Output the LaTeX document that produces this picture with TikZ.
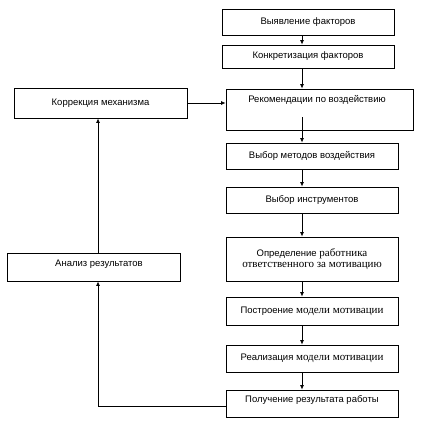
\documentclass[tikz,border=0pt]{standalone}
\usepackage{fontspec}
\setmainfont{Liberation Sans}
\newfontfamily\serifx{Liberation Serif}
\newcommand{\srf}[1]{{\serifx\fontsize{11}{13}\selectfont #1}}
\usetikzlibrary{arrows.meta}
\begin{document}
\begin{tikzpicture}[x=1pt,y=-1pt,
  box/.style={draw,line width=0.8pt,inner sep=0pt,font=\fontsize{9.5}{11.5}\selectfont},
  lbl/.style={font=\fontsize{9.5}{11.5}\selectfont},
  arr/.style={line width=0.8pt,-{Latex[length=4.5pt,width=4pt]}},
  ln/.style={line width=0.8pt}]
\useasboundingbox (0,0) rectangle (421,434);
\node[box,minimum width=172,minimum height=26] (b1) at (308,22) {Выявление факторов};
\node[box,minimum width=172,minimum height=23] (b2) at (308,56.5) {Конкретизация факторов};
\node[box,minimum width=187,minimum height=41] (b3) at (319.5,109.5) {};
\node[lbl] (t3) at (317,100) {Рекомендации по воздействию};
\node[box,minimum width=172,minimum height=26] (b4) at (312,156) {Выбор методов воздействия};
\node[box,minimum width=172,minimum height=26] (b5) at (312,200) {Выбор инструментов};
\node[box,minimum width=172,minimum height=44,align=center] (b6) at (312,259)
  {Определение \srf{работника}\\[-1pt]\srf{ответственного за мотивацию}};
\node[box,minimum width=172,minimum height=28] (b7) at (312,311) {Построение \srf{модели мотивации}};
\node[box,minimum width=172,minimum height=27] (b8) at (312,358.5) {Реализация \srf{модели мотивации}};
\node[box,minimum width=172,minimum height=27] (b9) at (312,403.5) {};
\node[lbl] (t9) at (312,400) {Получение результата работы};
\node[box,minimum width=173,minimum height=30] (l1) at (100.5,103) {Коррекция механизма};
\node[box,minimum width=173,minimum height=28] (l2) at (93.5,267) {};
\node[lbl] (t2) at (99,264) {Анализ результатов};
\coordinate (c3) at (302,117);
\coordinate (fb1) at (98,406);
\draw[arr] (b1.south -| c3) -- (b2.north -| c3);
\draw[arr] (b2.south -| c3) -- (b3.north -| c3);
\draw[arr] (c3) -- (b4.north -| c3);
\draw[arr] (b4.south -| c3) -- (b5.north -| c3);
\draw[arr] (b5.south -| c3) -- (b6.north -| c3);
\draw[arr] (b6.south -| c3) -- (b7.north -| c3);
\draw[arr] (b7.south -| c3) -- (b8.north -| c3);
\draw[arr] (b8.south -| c3) -- (b9.north -| c3);
\draw[arr] (b9.west |- fb1) -- (fb1) -- (l2.south -| fb1);
\draw[arr] (l2.north -| fb1) -- (l1.south -| fb1);
\draw[arr] (l1.east) -- (b3.west |- l1.east);
\end{tikzpicture}
\end{document}
